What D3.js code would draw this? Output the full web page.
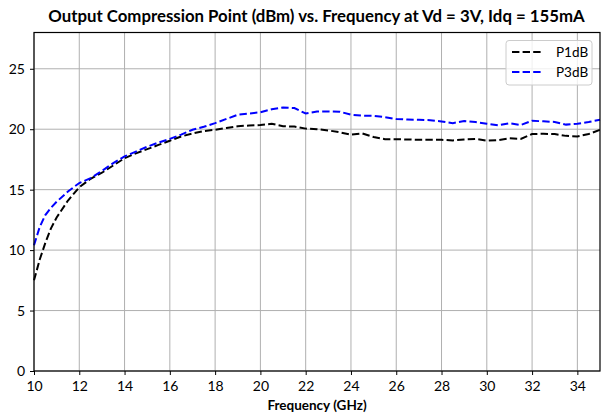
<!DOCTYPE html>
<html><head><meta charset="utf-8">
<script src="https://cdn.jsdelivr.net/npm/d3@7"></script>
<style>body{margin:0;background:#fff}svg{display:block}text{font-family:Lato,"Open Sans",sans-serif}</style>
</head><body><svg id="c" width="605" height="415"></svg>
<script>
const freq = [10,10.25,10.5,10.75,11,11.5,12,12.5,13,13.5,14,14.5,15,15.5,16,16.5,17,17.5,18,18.5,19,19.5,20,20.5,21,21.5,22,22.5,23,23.5,24,24.5,25,25.5,26,26.5,27,27.5,28,28.5,29,29.5,30,30.5,31,31.5,32,32.5,33,33.5,34,34.5,35];
const p1dB = [7.5,9.2,10.6,11.8,12.7,14.1,15.2,15.9,16.4,17.0,17.6,18.0,18.35,18.7,19.05,19.4,19.65,19.85,19.95,20.1,20.25,20.3,20.35,20.45,20.25,20.22,20.05,20.0,19.9,19.75,19.55,19.65,19.35,19.18,19.18,19.15,19.12,19.12,19.12,19.07,19.15,19.2,19.05,19.1,19.25,19.2,19.6,19.62,19.6,19.45,19.4,19.6,19.95];
const p3dB = [10.4,11.9,12.9,13.5,14.0,14.85,15.55,15.95,16.55,17.2,17.75,18.15,18.55,18.9,19.2,19.55,19.95,20.2,20.5,20.85,21.2,21.3,21.4,21.65,21.8,21.75,21.3,21.47,21.47,21.45,21.2,21.12,21.1,21.0,20.84,20.8,20.78,20.75,20.64,20.5,20.68,20.6,20.45,20.32,20.5,20.35,20.7,20.65,20.6,20.38,20.45,20.6,20.78];
const xTicks = [10,12,14,16,18,20,22,24,26,28,30,32,34];
const yTicks = [0,5,10,15,20,25];
const seriesNames = ["P1dB","P3dB"];
const seriesColors = ["#000000","#0000ff"];
const titleText = "Output Compression Point (dBm) vs. Frequency at Vd = 3V, Idq = 155mA";
const xLabel = "Frequency (GHz)";

const svg = d3.select("#c");
const m = {l:34, r:5, t:32.5, b:44};
const W = 605, H = 415;
const x = d3.scaleLinear().domain([10,35]).range([m.l, W-m.r]);
const y = d3.scaleLinear().domain([0,28]).range([H-m.b, m.t]);

// grid
svg.append("g").selectAll("line").data(xTicks).join("line")
  .attr("x1",d=>x(d)).attr("x2",d=>x(d)).attr("y1",y(0)).attr("y2",y(28))
  .attr("stroke","#b0b0b0").attr("stroke-width",1);
svg.append("g").selectAll("line").data(yTicks).join("line")
  .attr("x1",x(10)).attr("x2",x(35)).attr("y1",d=>y(d)).attr("y2",d=>y(d))
  .attr("stroke","#b0b0b0").attr("stroke-width",1);

// series
const series = [p1dB, p3dB];
const line = d3.line().x((d,i)=>x(freq[i])).y(d=>y(d));
const plot = svg.append("g");
series.forEach((s,k)=>{
  plot.append("path").datum(s).attr("d",line).attr("fill","none")
    .attr("stroke",seriesColors[k]).attr("stroke-width",2)
    .attr("stroke-dasharray","7.4,3.2");
});

// frame
svg.append("rect").attr("x",x(10)).attr("y",y(28)).attr("width",x(35)-x(10)).attr("height",y(0)-y(28))
  .attr("fill","none").attr("stroke","#000").attr("stroke-width",1.2);

// axes
const xa = svg.append("g").attr("transform",`translate(0,${y(0)})`)
  .call(d3.axisBottom(x).tickValues(xTicks).tickSize(4).tickPadding(6).tickFormat(d3.format("d")));
const ya = svg.append("g").attr("transform",`translate(${x(10)},0)`)
  .call(d3.axisLeft(y).tickValues(yTicks).tickSize(4).tickPadding(5).tickFormat(d3.format("d")));
[xa,ya].forEach(a=>{
  a.select(".domain").remove();
  a.selectAll("text").attr("font-size",14).attr("fill","#000").style("font-family","Lato,sans-serif");
  a.selectAll(".tick line").attr("stroke","#000").attr("stroke-width",1);
});

// title
svg.append("text").attr("x",316.5).attr("y",21.5).attr("text-anchor","middle")
  .attr("font-size",16.8).attr("font-weight","bold").text(titleText);
svg.append("text").attr("x",317).attr("y",410).attr("text-anchor","middle")
  .attr("font-size",13.5).attr("font-weight","bold").text(xLabel);

// legend
const lg = svg.append("g");
lg.append("rect").attr("x",506).attr("y",40.5).attr("width",86).attr("height",44.5).attr("rx",3)
  .attr("fill","#fff").attr("fill-opacity",0.8).attr("stroke","#cccccc").attr("stroke-width",1);
seriesNames.forEach((n,k)=>{
  const yy = 52 + k*20;
  lg.append("line").attr("x1",512).attr("x2",542).attr("y1",yy).attr("y2",yy)
    .attr("stroke",seriesColors[k]).attr("stroke-width",2).attr("stroke-dasharray","7.4,3.2");
  lg.append("text").attr("x",556).attr("y",yy+5).attr("font-size",13.5).text(n);
});
</script></body></html>
